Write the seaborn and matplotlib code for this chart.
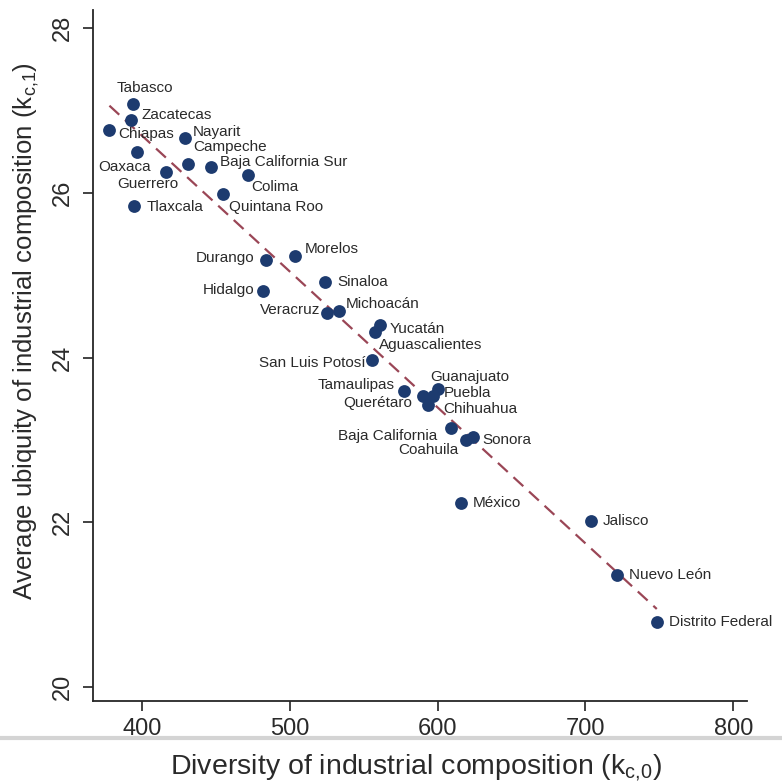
import numpy as np
import pandas as pd
import seaborn as sns
import matplotlib.pyplot as plt
from matplotlib.lines import Line2D

# data
states = ['Tabasco', 'Zacatecas', 'Chiapas', 'Nayarit', 'Oaxaca', 'Campeche',
          'Baja California Sur', 'Guerrero', 'Colima', 'Quintana Roo', 'Tlaxcala',
          'Durango', 'Morelos', 'Sinaloa', 'Hidalgo', 'Veracruz', 'Michoacán',
          'Yucatán', 'Aguascalientes', 'San Luis Potosí', 'Tamaulipas', 'Querétaro',
          'Guanajuato', 'Puebla', 'Chihuahua', 'Baja California', 'Coahuila',
          'Sonora', 'México', 'Jalisco', 'Nuevo León', 'Distrito Federal']
diversity = [393.9, 392.6, 378.1, 429.1, 397.0, 431.5,
             446.7, 416.6, 471.8, 454.8, 395.0,
             484.2, 503.9, 524.1, 481.9, 525.3, 533.1,
             561.3, 557.5, 555.7, 577.1, 589.8,
             600.6, 597.2, 593.8, 608.8, 618.9,
             624.1, 615.5, 704.0, 721.6, 748.2]
ubiquity = [27.08, 26.89, 26.76, 26.66, 26.49, 26.35,
            26.31, 26.25, 26.22, 25.99, 25.84,
            25.19, 25.23, 24.92, 24.81, 24.54, 24.57,
            24.40, 24.31, 23.97, 23.60, 23.53,
            23.62, 23.53, 23.42, 23.14, 23.00,
            23.03, 22.23, 22.01, 21.36, 20.79]
x_ticks = [400, 500, 600, 700, 800]
y_ticks = [20, 22, 24, 26, 28]

# label placement: (alignment, dx px, dy px up)
label_pos = {
    'Tabasco': ('left', -16, 16), 'Zacatecas': ('left', 11, 5),
    'Chiapas': ('left', 9, -4), 'Nayarit': ('left', 8, 6),
    'Oaxaca': ('right', 14, -15), 'Campeche': ('left', 5, 17),
    'Baja California Sur': ('left', 9, 5), 'Guerrero': ('right', 12, -12),
    'Colima': ('left', 3, -12), 'Quintana Roo': ('left', 6, -13),
    'Tlaxcala': ('left', 12, -1), 'Durango': ('right', -12, 2),
    'Morelos': ('left', 9, 7), 'Sinaloa': ('left', 12, 0),
    'Hidalgo': ('right', -9, 1), 'Veracruz': ('right', -7, 3),
    'Michoacán': ('left', 7, 7), 'Yucatán': ('left', 9, -4),
    'Aguascalientes': ('left', 4, -13), 'San Luis Potosí': ('right', -7, -3),
    'Tamaulipas': ('right', -9, 6), 'Querétaro': ('right', -10, -7),
    'Guanajuato': ('left', -8, 12), 'Puebla': ('left', 10, 3),
    'Chihuahua': ('left', 15, -4), 'Baja California': ('right', -13, -8),
    'Coahuila': ('right', -7, -10), 'Sonora': ('left', 9, -3),
    'México': ('left', 12, 0), 'Jalisco': ('left', 11, 0),
    'Nuevo León': ('left', 12, 0), 'Distrito Federal': ('left', 12, 0),
}

df = pd.DataFrame({'state': states, 'div': diversity, 'ubi': ubiquity})

sns.set_style('ticks')
plt.rcParams['font.family'] = ['Liberation Sans', 'DejaVu Sans']
plt.rcParams['mathtext.default'] = 'regular'

fig = plt.figure(figsize=(7.82, 7.84), dpi=100)
ax = fig.add_axes([93.3 / 782, 1 - 701 / 784, 653.4 / 782, 691 / 784])

navy = '#1d3b6f'
sns.regplot(data=df, x='div', y='ubi', scatter=False, ci=None, truncate=True,
            line_kws={'color': '#9a4656', 'lw': 1.6, 'dashes': (6, 3.5)}, ax=ax)
sns.scatterplot(data=df, x='div', y='ubi', color=navy, s=85, linewidth=0, ax=ax, zorder=3)

for _, r in df.iterrows():
    ha, dx, dy = label_pos[r['state']]
    ax.annotate(r['state'], (r['div'], r['ubi']), xytext=(dx, dy),
                textcoords='offset pixels', ha=ha, va='center',
                fontsize=11, color='#2a2a2a', zorder=4)

ax.set_xlim(367.2, 809)
ax.set_ylim(19.83, 28.22)
ax.set_xticks(x_ticks)
ax.set_yticks(y_ticks)
sns.despine(ax=ax)
ax.spines['left'].set_linewidth(1.3)
ax.spines['bottom'].set_linewidth(1.3)
ax.tick_params(axis='both', length=7.2, width=1.2, color='#222222', labelcolor='#2a2a2a')
ax.tick_params(axis='x', labelsize=17, pad=5)
ax.tick_params(axis='y', labelsize=17, pad=7, labelrotation=90)
for lab in ax.get_yticklabels():
    lab.set_va('center')

ax.set_xlabel('Diversity of industrial composition (k$_{c{,}0}$)', fontsize=20.5,
              color='#2a2a2a')
ax.set_ylabel('Average ubiquity of industrial composition (k$_{c{,}1}$)', fontsize=18.5,
              color='#2a2a2a')
ax.xaxis.label.set_va('center')
ax.yaxis.label.set_va('center')
ax.xaxis.set_label_coords(0.494, -0.097)
ax.yaxis.set_label_coords(-0.103, 0.535)

fig.add_artist(Line2D([0, 1], [1 - 738 / 784] * 2, color='#d4d4d4', lw=3))

plt.savefig('out.png', dpi=100)
